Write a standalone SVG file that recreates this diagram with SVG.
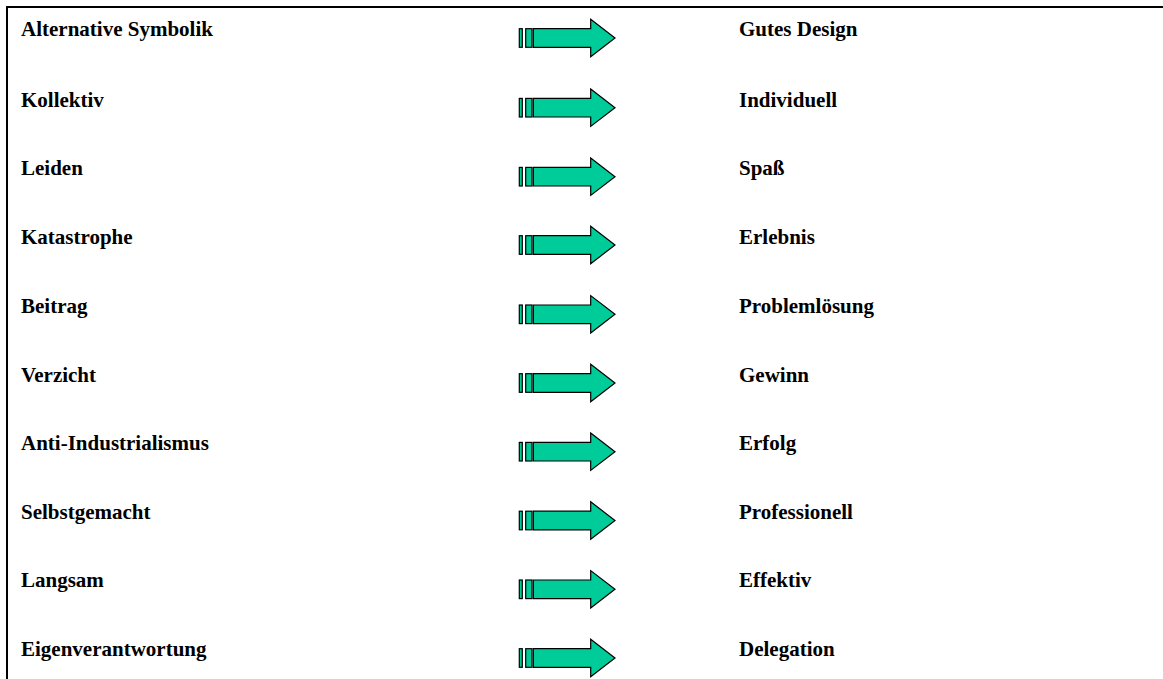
<svg xmlns="http://www.w3.org/2000/svg" width="1163" height="679" viewBox="0 0 1163 679">
<style>
text{font-family:"Liberation Serif","Times New Roman",serif;font-weight:bold;font-size:21px;fill:#000}
.arr{fill:#00CC99;stroke:#000;stroke-width:1.2}
.frame{stroke:#000;stroke-width:2;fill:none}
</style>
<defs>
<g id="arrow">
<rect class="arr" x="519.3" y="-9.3" width="3" height="18.6"/>
<rect class="arr" x="525.7" y="-9.3" width="6.3" height="18.6"/>
<path class="arr" d="M533.3,-9.3 H590.7 V-18.7 L615,0 L590.7,18.7 V9.3 H533.3 Z"/>
</g>
</defs>
<rect width="1163" height="679" fill="#fff"/>
<path class="frame" d="M7,679 V7 H1163"/>
<g id="connectors">
<use href="#arrow" y="38"/>
<use href="#arrow" y="107.7"/>
<use href="#arrow" y="176.7"/>
<use href="#arrow" y="245"/>
<use href="#arrow" y="314.3"/>
<use href="#arrow" y="383"/>
<use href="#arrow" y="451.7"/>
<use href="#arrow" y="520.5"/>
<use href="#arrow" y="589.3"/>
<use href="#arrow" y="658"/>
</g>
<g id="n1"><text x="21" y="36">Alternative Symbolik</text><text x="739" y="36">Gutes Design</text></g>
<g id="n2"><text x="21" y="106.5">Kollektiv</text><text x="739" y="106.5">Individuell</text></g>
<g id="n3"><text x="21" y="175.3">Leiden</text><text x="739" y="175.3">Spaß</text></g>
<g id="n4"><text x="21" y="244">Katastrophe</text><text x="739" y="244">Erlebnis</text></g>
<g id="n5"><text x="21" y="313">Beitrag</text><text x="739" y="313">Problemlösung</text></g>
<g id="n6"><text x="21" y="381.7">Verzicht</text><text x="739" y="381.7">Gewinn</text></g>
<g id="n7"><text x="21" y="450.3">Anti-Industrialismus</text><text x="739" y="450.3">Erfolg</text></g>
<g id="n8"><text x="21" y="518.9">Selbstgemacht</text><text x="739" y="518.9">Professionell</text></g>
<g id="n9"><text x="21" y="587.3">Langsam</text><text x="739" y="587.3">Effektiv</text></g>
<g id="n10"><text x="21" y="655.7">Eigenverantwortung</text><text x="739" y="655.7">Delegation</text></g>
</svg>
